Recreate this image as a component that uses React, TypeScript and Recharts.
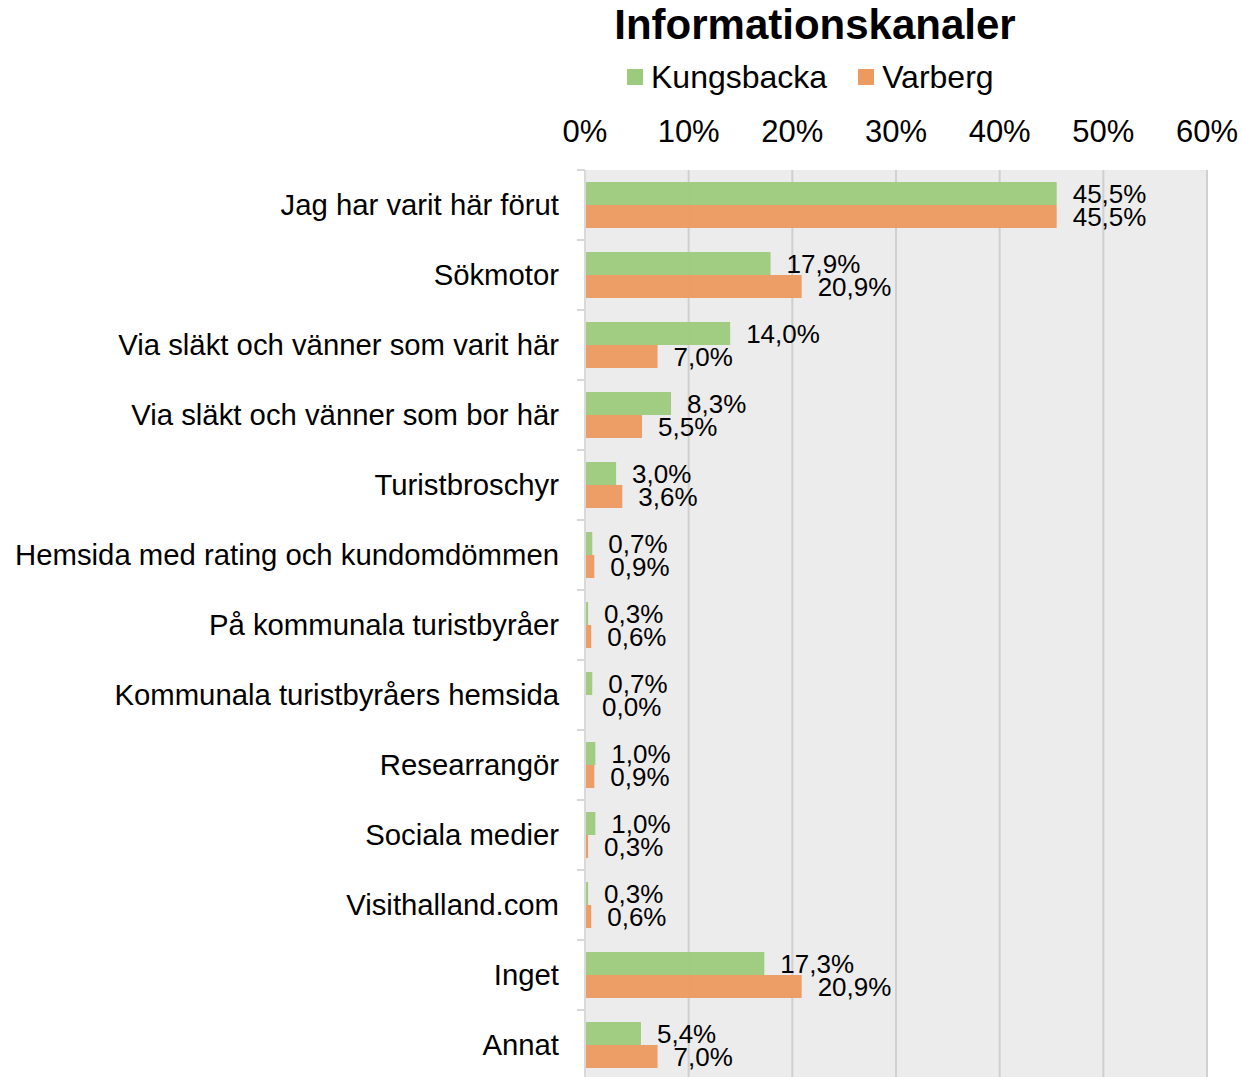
import { BarChart, Bar, XAxis, YAxis, CartesianGrid, LabelList } from 'recharts';

const categories = [
  'Jag har varit här förut',
  'Sökmotor',
  'Via släkt och vänner som varit här',
  'Via släkt och vänner som bor här',
  'Turistbroschyr',
  'Hemsida med rating och kundomdömmen',
  'På kommunala turistbyråer',
  'Kommunala turistbyråers hemsida',
  'Researrangör',
  'Sociala medier',
  'Visithalland.com',
  'Inget',
  'Annat',
];
const kungsbacka = [45.5, 17.9, 14.0, 8.3, 3.0, 0.7, 0.3, 0.7, 1.0, 1.0, 0.3, 17.3, 5.4];
const varberg = [45.5, 20.9, 7.0, 5.5, 3.6, 0.9, 0.6, 0.0, 0.9, 0.3, 0.6, 20.9, 7.0];
const xTicks = [0, 10, 20, 30, 40, 50, 60];

const GREEN = '#9dcb7d';
const ORANGE = '#ec9a5f';
const FONT = '"Liberation Sans", Arial, sans-serif';

const data = categories.map((name, i) => ({
  name,
  Kungsbacka: kungsbacka[i],
  Varberg: varberg[i],
}));

const pct = (v: number) => `${v.toFixed(1).replace('.', ',')}%`;

const CategoryTick = (props: any) => {
  const { x, y, payload } = props;
  const half = 35;
  return (
    <g>
      <line x1={x + 18} x2={x + 26} y1={y - half} y2={y - half} stroke="#d9d9d9" strokeWidth={2} />
      <text x={x} y={y} dy={10} textAnchor="end" fontSize={29.3} fill="#000" fontFamily={FONT}>
        {payload.value}
      </text>
    </g>
  );
};

const LegendItem = ({ color, label, gap }: { color: string; label: string; gap: number }) => (
  <span style={{ display: 'inline-flex', alignItems: 'center', marginRight: gap }}>
    <span style={{ width: 16, height: 16, background: color, display: 'inline-block', marginRight: 8 }} />
    <span>{label}</span>
  </span>
);

export default function App() {
  return (
    <div style={{ position: 'absolute', left: 0, top: 0, width: 1242, height: 1077, overflow: 'hidden', background: '#fff' }}>
      <div
        style={{
          position: 'absolute', left: 515, width: 600, top: 1, textAlign: 'center',
          fontFamily: FONT, fontWeight: 'bold', fontSize: 42, color: '#000', lineHeight: '48px',
        }}
      >
        Informationskanaler
      </div>
      <div
        style={{
          position: 'absolute', left: 627, top: 58, display: 'flex', alignItems: 'center',
          fontFamily: FONT, fontSize: 32, color: '#000', lineHeight: '38px', whiteSpace: 'nowrap',
        }}
      >
        <LegendItem color={GREEN} label="Kungsbacka" gap={31} />
        <LegendItem color={ORANGE} label="Varberg" gap={0} />
      </div>
      <BarChart
        width={1242}
        height={1080}
        data={data}
        layout="vertical"
        margin={{ top: 120, right: 35, bottom: 0, left: 0 }}
        barCategoryGap={12}
        barGap={0}
      >
        <CartesianGrid horizontal={false} fill="#ececec" stroke="#d0d0d0" strokeWidth={2} />
        <XAxis
          type="number"
          orientation="top"
          domain={[0, 60]}
          ticks={xTicks}
          tickFormatter={(v: number) => `${v}%`}
          axisLine={false}
          tickLine={false}
          tickSize={0}
          tickMargin={28}
          height={50}
          tick={{ fontSize: 31, fill: '#000', fontFamily: FONT }}
          interval={0}
        />
        <YAxis
          type="category"
          dataKey="name"
          width={585}
          axisLine={{ stroke: '#d9d9d9', strokeWidth: 2 }}
          tickLine={false}
          tick={<CategoryTick />}
          tickMargin={20}
          interval={0}
        />
        <Bar dataKey="Kungsbacka" fill={GREEN} fillOpacity={0.95} isAnimationActive={false}>
          <LabelList dataKey="Kungsbacka" position="right" offset={16} formatter={(v: any) => pct(Number(v))} fontSize={26} fill="#000" fontFamily={FONT} />
        </Bar>
        <Bar dataKey="Varberg" fill={ORANGE} fillOpacity={0.95} minPointSize={(v: any) => (Number(v) === 0 ? 1 : 0)} isAnimationActive={false}>
          <LabelList dataKey="Varberg" position="right" offset={16} formatter={(v: any) => pct(Number(v))} fontSize={26} fill="#000" fontFamily={FONT} />
        </Bar>
      </BarChart>
    </div>
  );
}
